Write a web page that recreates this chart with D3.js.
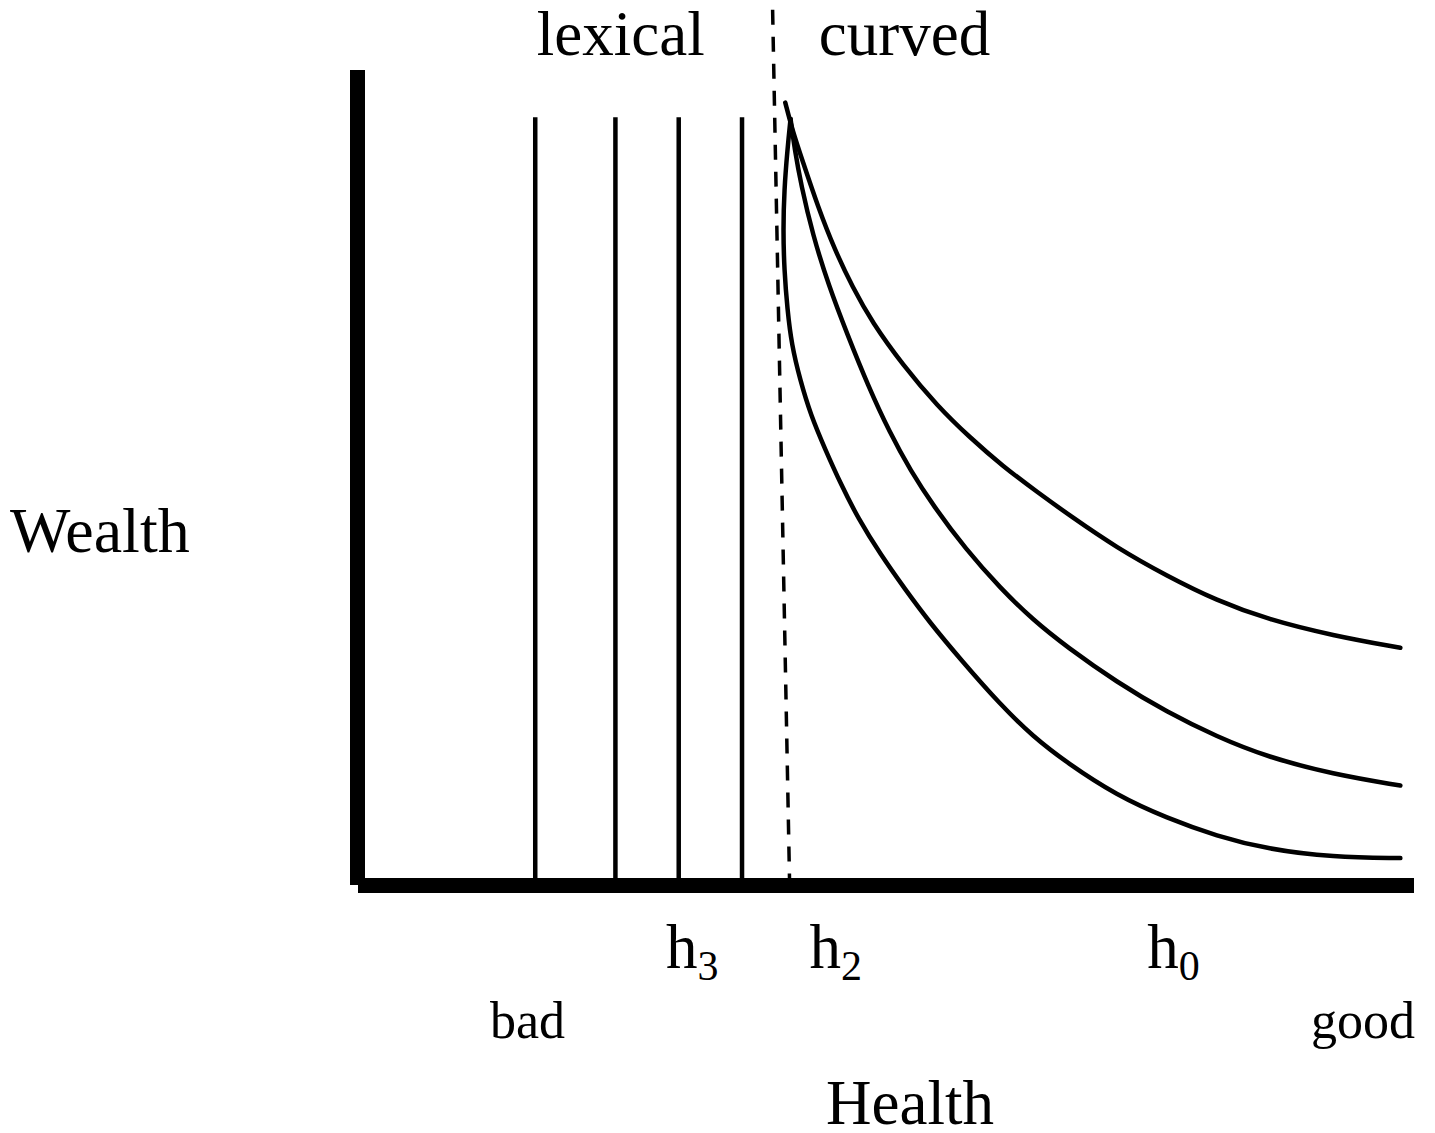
<!DOCTYPE html>
<html>
<head>
<meta charset="utf-8">
<script src="https://cdn.jsdelivr.net/npm/d3@7"></script>
<style>
  body { margin: 0; background: #fff; }
  text { font-family: "Liberation Serif", "Times New Roman", serif; fill: #000; }
</style>
</head>
<body>
<div id="chart"></div>
<script>
// health / wealth in arbitrary units (0-100 on both axes)
var lexicalLines = [16.8, 24.4, 30.4, 36.4];   // vertical indifference lines
var lexicalTop = 94.2;
var boundary = [[39.3, 107.4], [40.9, 0]];     // dashed divide

var curveOuter = [[40.5, 96.0], [41.2, 92.5], [42.1, 89.0], [43.6, 83.2], [45.2, 77.9],
  [46.9, 73.3], [48.7, 69.1], [51.7, 63.7], [54.9, 58.8], [58.0, 54.9], [61.1, 51.4],
  [64.4, 48.2], [67.5, 45.3], [71.9, 41.4], [76.7, 37.9], [81.4, 34.9], [86.2, 32.6],
  [92.4, 30.6], [98.8, 29.1]];
var curveMiddle = [[41.0, 94.0], [41.4, 90.2], [42.0, 85.9], [43.1, 79.8], [44.6, 73.6],
  [46.4, 67.5], [48.3, 61.4], [50.4, 55.5], [52.4, 50.8], [54.5, 46.6], [57.6, 41.2],
  [60.9, 36.4], [64.0, 32.5], [67.2, 29.2], [71.9, 24.9], [76.7, 21.2], [81.4, 18.2],
  [86.2, 15.7], [92.4, 13.6], [98.8, 12.2]];
var curveInner = [[41.0, 94.0], [40.7, 90.2], [40.4, 85.3], [40.3, 80.4], [40.4, 75.5],
  [40.7, 70.6], [41.1, 66.3], [41.9, 62.0], [42.9, 57.7], [44.3, 53.4], [45.8, 49.1],
  [47.4, 45.0], [49.5, 40.6], [51.9, 36.2], [54.2, 32.2], [57.1, 27.7], [60.9, 22.1],
  [64.0, 18.2], [67.2, 15.0], [71.9, 11.0], [76.7, 8.2], [81.4, 6.0], [86.2, 4.4],
  [92.4, 3.4], [98.8, 3.3]];
var curves = [curveOuter, curveMiddle, curveInner];

var hLabels = ["3", "2", "0"];          // subscripts of h
var hPositions = [29.2, 42.8, 74.8];    // where the h labels sit on health axis
var regionLabels = ["lexical", "curved"];
var regionCenters = [24.9, 51.8];

var width = 1435, height = 1133;

var svg = d3.select("#chart").append("svg")
  .attr("width", width)
  .attr("height", height);

var x = d3.scaleLinear().domain([0, 100]).range([358, 1413]);
var y = d3.scaleLinear().domain([0, 100]).range([885, 70]);

// axes
svg.append("line")
  .attr("x1", x(0) - 0.5).attr("x2", x(0) - 0.5)
  .attr("y1", y(100)).attr("y2", y(0))
  .attr("stroke", "#000").attr("stroke-width", 15);
svg.append("line")
  .attr("x1", x(0)).attr("x2", x(100) + 1)
  .attr("y1", y(0) + 0.5).attr("y2", y(0) + 0.5)
  .attr("stroke", "#000").attr("stroke-width", 15);

// lexical region lines
svg.selectAll(".lex")
  .data(lexicalLines)
  .enter()
  .append("line")
  .attr("class", "lex")
  .attr("x1", function (d) { return x(d); })
  .attr("x2", function (d) { return x(d); })
  .attr("y1", y(lexicalTop))
  .attr("y2", y(0) - 7)
  .attr("stroke", "#000")
  .attr("stroke-width", 4.5);

// dashed divide
svg.append("line")
  .attr("x1", x(boundary[0][0])).attr("y1", y(boundary[0][1]))
  .attr("x2", x(boundary[1][0])).attr("y2", y(boundary[1][1]) - 7)
  .attr("stroke", "#000")
  .attr("stroke-width", 3.5)
  .attr("stroke-dasharray", "15,12");

// curved indifference curves
var line = d3.line()
  .x(function (d) { return x(d[0]); })
  .y(function (d) { return y(d[1]); })
  .curve(d3.curveBasis);

svg.selectAll(".curve")
  .data(curves)
  .enter()
  .append("path")
  .attr("class", "curve")
  .attr("d", line)
  .attr("fill", "none")
  .attr("stroke", "#000")
  .attr("stroke-width", 4.5)
  .attr("stroke-linecap", "round");

// region labels
svg.selectAll(".region")
  .data(regionLabels)
  .enter()
  .append("text")
  .attr("class", "region")
  .attr("x", function (d, i) { return x(regionCenters[i]); })
  .attr("y", 55)
  .attr("text-anchor", "middle")
  .attr("font-size", 63)
  .text(function (d) { return d; });

// h labels
var hl = svg.selectAll(".hlab")
  .data(hLabels)
  .enter()
  .append("text")
  .attr("class", "hlab")
  .attr("x", function (d, i) { return x(hPositions[i]); })
  .attr("y", 968)
  .attr("font-size", 63);
hl.append("tspan").text("h");
hl.append("tspan")
  .attr("font-size", 42)
  .attr("dy", 12)
  .text(function (d) { return d; });

// axis end labels
svg.append("text")
  .attr("x", x(12.5)).attr("y", 1038)
  .attr("font-size", 52)
  .text("bad");
svg.append("text")
  .attr("x", x(100.2)).attr("y", 1038)
  .attr("text-anchor", "end")
  .attr("font-size", 52)
  .text("good");

// axis titles
svg.append("text")
  .attr("x", 910).attr("y", 1124)
  .attr("text-anchor", "middle")
  .attr("font-size", 63)
  .text("Health");
svg.append("text")
  .attr("x", 10).attr("y", 552)
  .attr("font-size", 64)
  .text("Wealth");
</script>
</body>
</html>
